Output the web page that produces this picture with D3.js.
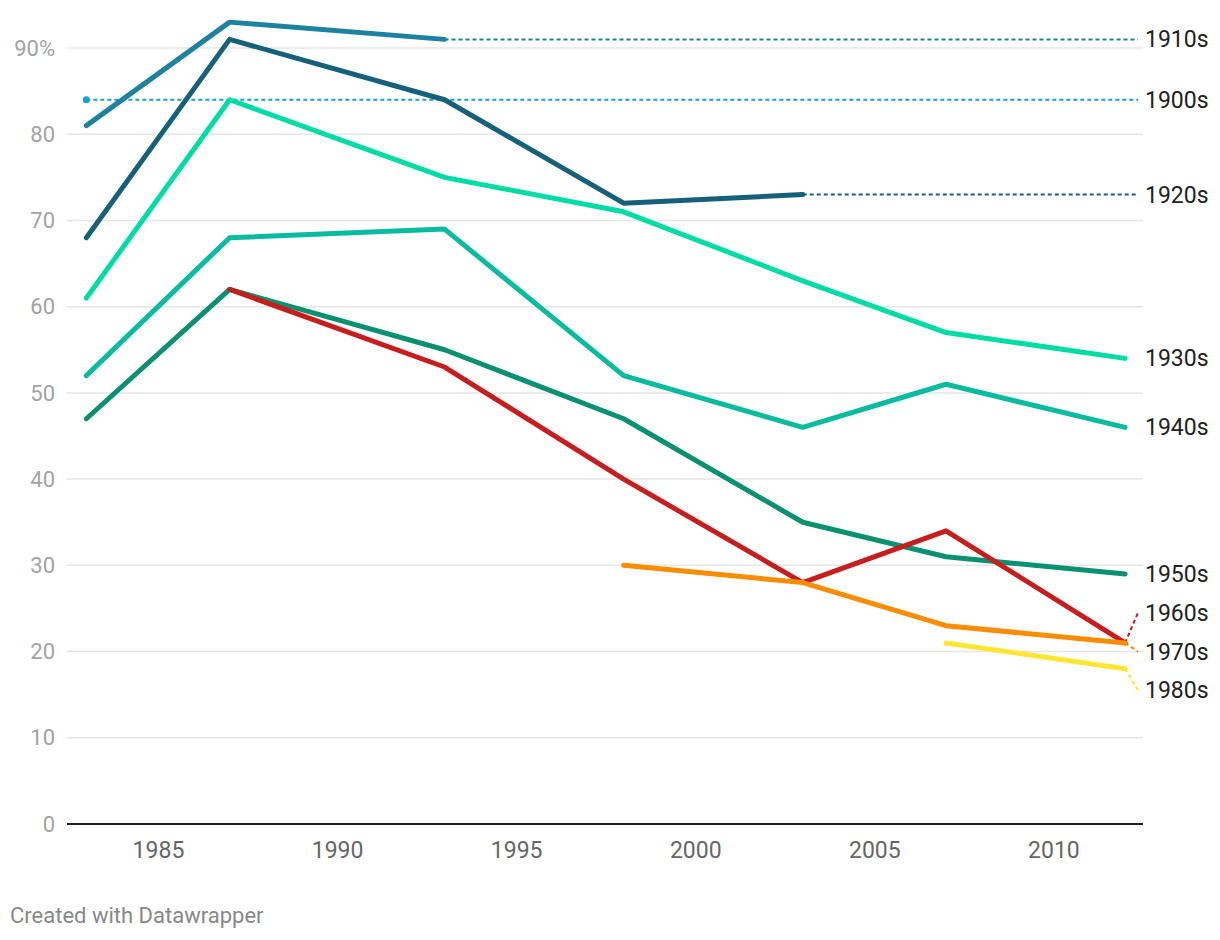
<!DOCTYPE html>
<html>
<head>
<meta charset="utf-8">
<script src="https://cdn.jsdelivr.net/npm/d3@7"></script>
<style>
  body { margin: 0; background: #fff; font-family: Roboto, sans-serif; }
</style>
</head>
<body>
<div id="chart"></div>
<script>
// survey years and share per decade cohort (null = no data)
var years = [1983, 1987, 1993, 1998, 2003, 2007, 2012];
var s1900s = [84, null, null, null, null, null, null];
var s1910s = [81, 93, 91, null, null, null, null];
var s1920s = [68, 91, 84, 72, 73, null, null];
var s1930s = [61, 84, 75, 71, 63, 57, 54];
var s1940s = [52, 68, 69, 52, 46, 51, 46];
var s1950s = [47, 62, 55, 47, 35, 31, 29];
var s1960s = [null, 62, 53, 40, 28, 34, 21];
var s1970s = [null, null, null, 30, 28, 23, 21];
var s1980s = [null, null, null, null, null, 21, 18];

var names = ["1900s", "1910s", "1920s", "1930s", "1940s", "1950s", "1960s", "1970s", "1980s"];
var colors = ["#18a1cd", "#1d81a2", "#15607a", "#00dca6", "#09bb9f", "#0a9172", "#c71e1d", "#fa8c00", "#ffe633"];
var labelY = [84, 91, 73, 54, 46, 29, 24.5, 20, 15.5]; // label anchors in data units
var yTicks = [0, 10, 20, 30, 40, 50, 60, 70, 80, 90];
var xTicks = [1985, 1990, 1995, 2000, 2005, 2010];

var allSeries = [s1900s, s1910s, s1920s, s1930s, s1940s, s1950s, s1960s, s1970s, s1980s];

var width = 1220, height = 940;
var margin = {top: 10, right: 77, bottom: 116, left: 67};

var svg = d3.select("#chart").append("svg")
  .attr("width", width)
  .attr("height", height);

var x = d3.scaleLinear()
  .domain([1982.46, 2012.5])
  .range([margin.left, width - margin.right]);

var y = d3.scaleLinear()
  .domain([0, 90])
  .range([824, 48]);

// grid
svg.append("g")
  .selectAll("line")
  .data(yTicks.filter(function(d) { return d > 0; }))
  .enter().append("line")
  .attr("x1", margin.left)
  .attr("x2", width - margin.right)
  .attr("y1", function(d) { return y(d); })
  .attr("y2", function(d) { return y(d); })
  .attr("stroke", "#e6e6e6")
  .attr("stroke-width", 1.5);

// y labels
svg.append("g")
  .selectAll("text")
  .data(yTicks)
  .enter().append("text")
  .attr("x", 55)
  .attr("y", function(d) { return y(d); })
  .attr("dy", "0.35em")
  .attr("text-anchor", "end")
  .attr("fill", "#a3a3a3")
  .style("font-size", "22px")
  .text(function(d) { return d === 90 ? "90%" : d; });

// x axis
var xAxis = svg.append("g")
  .attr("transform", "translate(0," + y(0) + ")")
  .call(d3.axisBottom(x).tickValues(xTicks).tickFormat(d3.format("d")).tickSize(0).tickPadding(18));
xAxis.select(".domain").remove();
xAxis.selectAll("text")
  .attr("fill", "#666")
  .style("font-size", "23px")
  .style("font-family", "Roboto, sans-serif");
svg.append("line")
  .attr("x1", margin.left)
  .attr("x2", width - margin.right)
  .attr("y1", y(0))
  .attr("y2", y(0))
  .attr("stroke", "#222")
  .attr("stroke-width", 2);

var line = d3.line()
  .defined(function(d) { return d.v != null; })
  .x(function(d) { return x(d.year); })
  .y(function(d) { return y(d.v); });

var labelX = 1138;

// dotted connectors from last point to label, where the label is away from the end
allSeries.forEach(function(s, i) {
  var pts = years.map(function(yr, j) { return {year: yr, v: s[j]}; })
    .filter(function(d) { return d.v != null; });
  var last = pts[pts.length - 1];
  if (last.year === years[years.length - 1] && last.v === labelY[i]) return;
  svg.append("line")
    .attr("x1", x(last.year))
    .attr("y1", y(last.v))
    .attr("x2", labelX)
    .attr("y2", y(labelY[i]))
    .attr("stroke", colors[i])
    .attr("stroke-width", 2)
    .attr("stroke-dasharray", "4,3");
});

// lines
allSeries.forEach(function(s, i) {
  var pts = years.map(function(yr, j) { return {year: yr, v: s[j]}; });
  var valid = pts.filter(function(d) { return d.v != null; });
  if (valid.length === 1) {
    svg.append("circle")
      .attr("cx", x(valid[0].year))
      .attr("cy", y(valid[0].v))
      .attr("r", 3.5)
      .attr("fill", colors[i]);
  } else {
    svg.append("path")
      .datum(pts)
      .attr("fill", "none")
      .attr("stroke", colors[i])
      .attr("stroke-width", 5)
      .attr("stroke-linecap", "round")
      .attr("stroke-linejoin", "round")
      .attr("d", line);
  }
});

// labels
svg.append("g")
  .selectAll("text")
  .data(names)
  .enter().append("text")
  .attr("x", 1145)
  .attr("y", function(d, i) { return y(labelY[i]); })
  .attr("dy", "0.35em")
  .attr("fill", "#222")
  .style("font-size", "23px")
  .text(function(d) { return d; });

svg.append("text")
  .attr("x", 10)
  .attr("y", 923)
  .attr("fill", "#888")
  .style("font-size", "22px")
  .text("Created with Datawrapper");
</script>
</body>
</html>
